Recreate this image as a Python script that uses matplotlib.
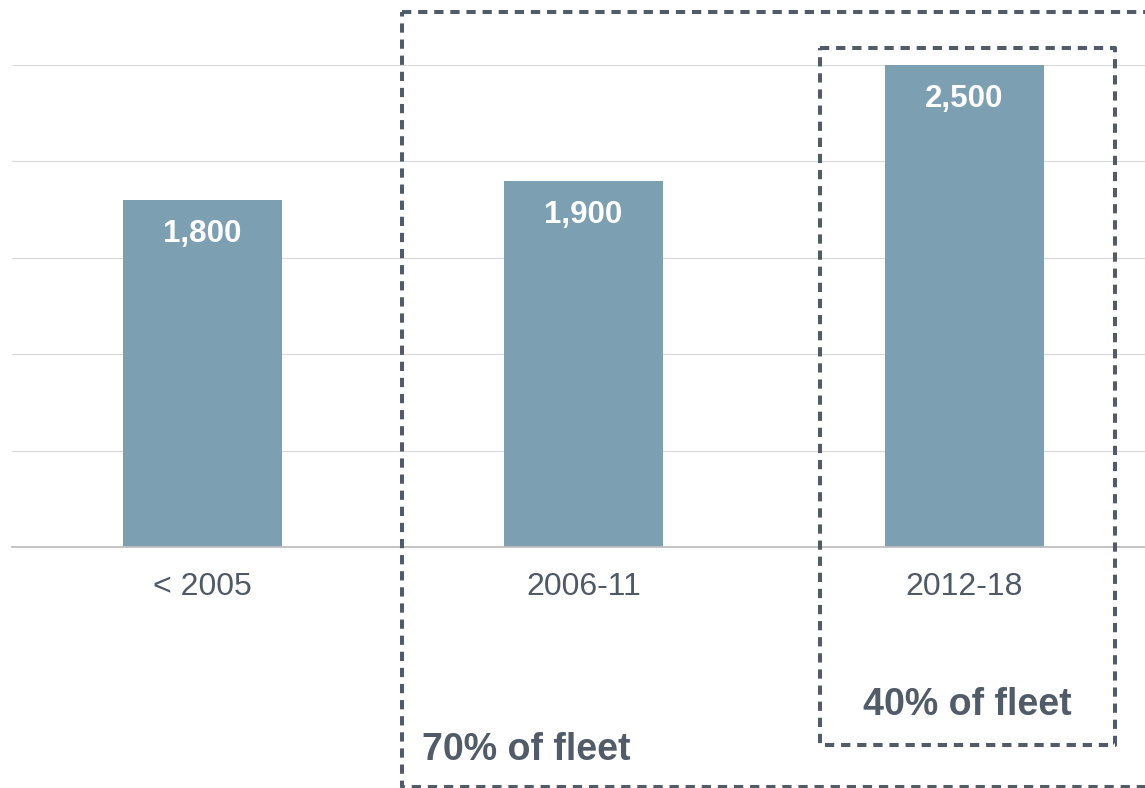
import matplotlib.pyplot as plt
from matplotlib.lines import Line2D

# data
categories = ["< 2005", "2006-11", "2012-18"]
values = [1800, 1900, 2500]
value_labels = ["1,800", "1,900", "2,500"]
callouts = ["70% of fleet", "40% of fleet"]

BAR = "#7d9fb2"
DARK = "#515c68"
TEXT = "#4e5a66"

plt.rcParams['font.family'] = ['Liberation Sans', 'DejaVu Sans']

W, H = 1145, 788
fig = plt.figure(figsize=(W / 100, H / 100), dpi=100)

# axes spans slightly past the right edge, like the original slide crop
ax = fig.add_axes([12 / W, 1 - 547 / H, 1143 / W, (547 - 65) / H])

x = range(len(categories))
bars = ax.bar(x, values, width=0.417, color=BAR, zorder=3)

for b, lab in zip(bars, value_labels):
    ax.annotate(lab, (b.get_x() + b.get_width() / 2, b.get_height()),
                xytext=(0, -24.5), textcoords='offset points',
                ha='center', va='center', color='white',
                fontsize=22.5, fontweight='bold', zorder=4)

ax.set_xlim(-0.5, 2.5)
ax.set_ylim(0, 2500)
ax.set_yticks([0, 500, 1000, 1500, 2000, 2500])
ax.yaxis.grid(True, color='#d9d9d9', linewidth=0.8, zorder=0)
ax.set_axisbelow(True)
ax.tick_params(axis='y', left=False, labelleft=False)
ax.set_xticks(list(x))
ax.set_xticklabels(categories, fontsize=23, color=TEXT)
ax.tick_params(axis='x', length=0, pad=18)
for s in ['top', 'right', 'left']:
    ax.spines[s].set_visible(False)
ax.spines['bottom'].set_color('#bfbfbf')
ax.spines['bottom'].set_linewidth(1.3)
ax.spines['bottom'].set_zorder(5)


# dashed call-out boxes, in pixel positions of the figure
def box(x0, y0, x1, y1):
    xs = [x0, x1, x1, x0, x0]
    ys = [y0, y0, y1, y1, y0]
    ln = Line2D([v / W for v in xs], [1 - v / H for v in ys],
                transform=fig.transFigure, color=DARK, linewidth=2.9,
                linestyle=(0, (2.3, 1.7)), dash_capstyle='butt',
                dash_joinstyle='round', zorder=10)
    fig.add_artist(ln)


box(402, 12, 1160, 787)
box(820, 48, 1115, 745)

fig.text(422 / W, 1 - 750 / H, callouts[0], fontsize=27, fontweight='bold',
         color=DARK, ha='left', va='center')
fig.text(967 / W, 1 - 705 / H, callouts[1], fontsize=27, fontweight='bold',
         color=DARK, ha='center', va='center')

fig.savefig("out.png", dpi=100)
